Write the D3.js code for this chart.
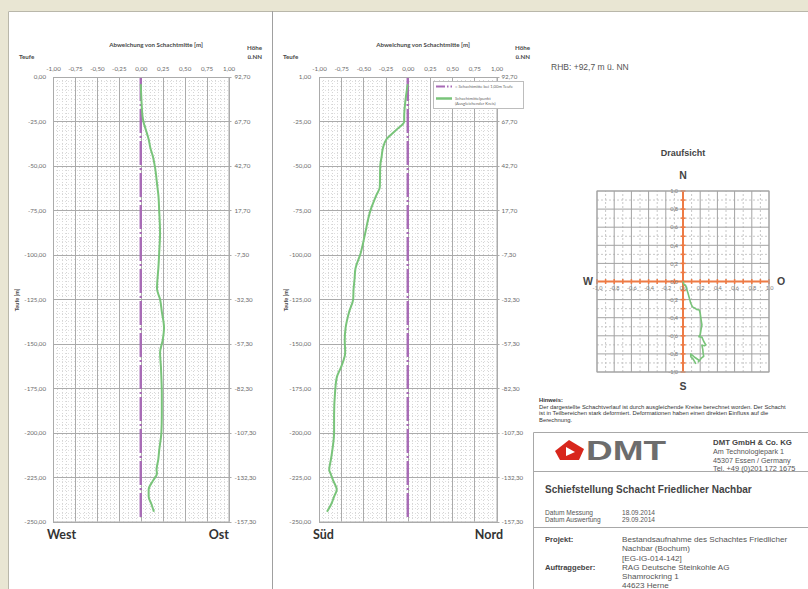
<!DOCTYPE html>
<html>
<head>
<meta charset="utf-8">
<script src="https://cdn.jsdelivr.net/npm/d3@7/dist/d3.min.js"></script>
<style>
  html, body { margin: 0; padding: 0; background: #fff; }
  svg { display: block; }
</style>
</head>
<body>
<svg id="sheet" width="808" height="589"></svg>
<script>
// ---- survey data -------------------------------------------------------
// depth stations of the shaft survey [m]
const depths = [-4, -15, -22, -25, -30, -35, -40, -45, -50, -62,
                -66, -75, -88, -99, -108, -114, -119, -125, -132, -141,
                -148, -155, -163, -169, -178, -190, -200, -210, -215, -221,
                -223, -227, -232, -236, -240, -244.5];
// deviation of the shaft centre, West (-) / Ost (+) [m]
const eastDev = [0, 0.01, 0.02, 0.03, 0.06, 0.09, 0.11, 0.14, 0.16, 0.19,
                 0.20, 0.21, 0.22, 0.21, 0.20, 0.19, 0.185, 0.22, 0.24, 0.265,
                 0.25, 0.22, 0.23, 0.235, 0.24, 0.24, 0.235, 0.21, 0.20, 0.18,
                 0.185, 0.14, 0.09, 0.09, 0.12, 0.15];
// deviation of the shaft centre, Süd (-) / Nord (+) [m]
const northDev = [0, -0.03, -0.04, -0.04, -0.135, -0.24, -0.28, -0.295, -0.31, -0.315,
                  -0.35, -0.42, -0.48, -0.53, -0.59, -0.60, -0.61, -0.615, -0.66, -0.70,
                  -0.71, -0.705, -0.75, -0.80, -0.82, -0.83, -0.83, -0.85, -0.865, -0.885,
                  -0.87, -0.84, -0.80, -0.83, -0.86, -0.91];
// reference line: shaft centre at 1,00 m depth
const centerDepths = [0, -248];
const centerDev = [0, 0];

// ---- tick labels -------------------------------------------------------
const devTicks = [-1, -0.75, -0.5, -0.25, 0, 0.25, 0.5, 0.75, 1];
const devTickLabels = ["-1,00", "-0,75", "-0,50", "-0,25", "0,00", "0,25", "0,50", "0,75", "1,00"];
const depthTicks = [0, -25, -50, -75, -100, -125, -150, -175, -200, -225, -250];
const depthLabelsWest = ["0,00", "-25,00", "-50,00", "-75,00", "-100,00", "-125,00", "-150,00",
                         "-175,00", "-200,00", "-225,00", "-250,00"];
const depthLabelsSued = ["1,00", "-25,00", "-50,00", "-75,00", "-100,00", "-125,00", "-150,00",
                         "-175,00", "-200,00", "-225,00", "-250,00"];
const heightLabels = ["92,70", "67,70", "42,70", "17,70", "-7,30", "-32,30", "-57,30",
                      "-82,30", "-107,30", "-132,30", "-157,30"];
const planTicks = [-1, -0.8, -0.6, -0.4, -0.2, 0, 0.2, 0.4, 0.6, 0.8, 1];
const planTickLabels = ["-1,0", "-0,8", "-0,6", "-0,4", "-0,2", "0,0", "0,2", "0,4", "0,6", "0,8", "1,0"];

// ---- styles ------------------------------------------------------------
const chartFont = "Lato, 'Open Sans', sans-serif";
const infoFont = "'Liberation Sans', Arial, sans-serif";
const green = "#79c47a";
const purple = "#a86bb6";
const orange = "#ee7b45";

const svg = d3.select("#sheet");

// sheet background and frame
svg.append("rect").attr("width", 808).attr("height", 589).attr("fill", "#e9e6d3");
svg.append("rect").attr("x", 8).attr("y", 11).attr("width", 800).attr("height", 578).attr("fill", "#fff");
svg.append("path").attr("d", "M8.5,589V11.5H808").attr("fill", "none").attr("stroke", "#b9b7aa");
svg.append("line").attr("x1", 272.5).attr("x2", 272.5).attr("y1", 11).attr("y2", 589)
  .attr("stroke", "#a0a0a0");

// ---- depth profile chart ----------------------------------------------
function profileChart(cfg) {
  const x = d3.scaleLinear().domain([-1, 1]).range([cfg.left, cfg.right]);
  const y = d3.scaleLinear().domain([0, -250]).range([77, 521.5]);
  const g = svg.append("g");
  const [x0, x1] = x.range();
  const [y0, y1] = y.range();

  // minor grid (dotted)
  g.append("g").selectAll("line").data(d3.range(-1, 1.0001, 0.05)).join("line")
    .attr("x1", d => Math.round(x(d)) + 0.5).attr("x2", d => Math.round(x(d)) + 0.5)
    .attr("y1", y0).attr("y2", y1)
    .attr("stroke", "#d5d5d5").attr("stroke-dasharray", "1,2");
  g.append("g").selectAll("line").data(d3.range(0, -250.001, -2.5)).join("line")
    .attr("x1", x0).attr("x2", x1)
    .attr("y1", d => Math.round(y(d)) + 0.5).attr("y2", d => Math.round(y(d)) + 0.5)
    .attr("stroke", "#dedede").attr("stroke-dasharray", "1,2");

  // major grid
  g.append("g").selectAll("line").data(devTicks).join("line")
    .attr("x1", d => Math.round(x(d)) + 0.5).attr("x2", d => Math.round(x(d)) + 0.5)
    .attr("y1", y0).attr("y2", y1).attr("stroke", "#ababab");
  g.append("g").selectAll("line").data(depthTicks).join("line")
    .attr("x1", x0).attr("x2", x1 + 3)
    .attr("y1", d => Math.round(y(d)) + 0.5).attr("y2", d => Math.round(y(d)) + 0.5)
    .attr("stroke", "#ababab");

  // axis labels
  const styleAxis = sel => {
    sel.select(".domain").remove();
    sel.selectAll(".tick line").remove();
    sel.attr("font-family", chartFont).attr("font-size", 6.2).selectAll("text").attr("fill", "#6a6a6a");
  };
  g.append("g").attr("transform", "translate(0,71)")
    .call(d3.axisTop(x).tickValues(devTicks).tickFormat((d, i) => devTickLabels[i]).tickSize(0).tickPadding(0))
    .call(styleAxis);
  g.append("g").attr("transform", `translate(${cfg.leftLabelX},0)`)
    .call(d3.axisLeft(y).tickValues(depthTicks).tickFormat((d, i) => cfg.depthLabels[i]).tickSize(0).tickPadding(0))
    .call(styleAxis);
  g.append("g").attr("transform", `translate(${x1 + cfg.rightGap},0)`)
    .call(d3.axisRight(y).tickValues(depthTicks).tickFormat((d, i) => heightLabels[i]).tickSize(0).tickPadding(0))
    .call(styleAxis);

  // titles
  const t = (tx, ty, s, opt = {}) => g.append("text").attr("x", tx).attr("y", ty).text(s)
    .attr("font-family", chartFont).attr("font-size", opt.size || 6.2)
    .attr("font-weight", opt.weight || "bold").attr("fill", opt.fill || "#4a4a4a")
    .attr("text-anchor", opt.anchor || "start");
  t(cfg.titleX, 47, "Abweichung von Schachtmitte [m]", { anchor: "middle" });
  t(cfg.teufeX, 59, "Teufe");
  t(cfg.hoeheX, 50, "Höhe", { anchor: "end" });
  t(cfg.hoeheX, 59, "ü.NN", { anchor: "end" });
  g.append("text").attr("transform", `translate(${cfg.axisTitleX},300) rotate(-90)`)
    .attr("text-anchor", "middle").attr("font-family", chartFont).attr("font-size", 5.5)
    .attr("font-weight", "bold").attr("fill", "#4a4a4a").text("Teufe [m]");
  t(cfg.leftWordX, 539, cfg.leftWord, { size: 12.5, fill: "#333" });
  t(cfg.rightWordX, 539, cfg.rightWord, { size: 12.5, fill: "#333", anchor: "end" });

  // reference centre line
  const refLine = d3.line().x((d, i) => x(centerDev[i])).y(d => y(d));
  g.append("path").datum(centerDepths).attr("d", refLine)
    .attr("fill", "none").attr("stroke", purple).attr("stroke-width", 2.4)
    .attr("stroke-dasharray", "24,3,2,3");

  // measured shaft centre
  const devLine = d3.line().x((d, i) => x(cfg.values[i])).y(d => y(d)).curve(d3.curveMonotoneY);
  g.append("path").datum(depths).attr("d", devLine)
    .attr("fill", "none").attr("stroke", green).attr("stroke-width", 2)
    .attr("stroke-linejoin", "round");

  // plot border
  g.append("rect").attr("x", x0 + 0.5).attr("y", y0 + 0.5)
    .attr("width", x1 - x0).attr("height", y1 - y0)
    .attr("fill", "none").attr("stroke", "#ababab");
  return g;
}

profileChart({
  left: 53, right: 228.5, values: eastDev, depthLabels: depthLabelsWest,
  leftLabelX: 46, rightGap: 6, titleX: 156, teufeX: 19, hoeheX: 262, axisTitleX: 19,
  leftWord: "West", leftWordX: 47, rightWord: "Ost", rightWordX: 229
});
const sued = profileChart({
  left: 319, right: 496.5, values: northDev, depthLabels: depthLabelsSued,
  leftLabelX: 311, rightGap: 5, titleX: 423, teufeX: 283, hoeheX: 530, axisTitleX: 288,
  leftWord: "Süd", leftWordX: 313, rightWord: "Nord", rightWordX: 503
});

// legend of the Süd/Nord chart
const lg = sued.append("g");
lg.append("rect").attr("x", 433.5).attr("y", 81.5).attr("width", 90).attr("height", 27)
  .attr("fill", "#fff").attr("stroke", "#bdbdbd");
lg.append("line").attr("x1", 436).attr("x2", 452).attr("y1", 86.5).attr("y2", 86.5)
  .attr("stroke", purple).attr("stroke-width", 2).attr("stroke-dasharray", "9,2,1.5,2");
lg.append("line").attr("x1", 436).attr("x2", 452).attr("y1", 98.5).attr("y2", 98.5)
  .attr("stroke", green).attr("stroke-width", 2.5);
[["= Schachtmitte bei 1,00m Teufe", 88], ["Schachtmittelpunkt", 99.5], ["(Ausgleichender Kreis)", 105]]
  .forEach(([s, yy]) => lg.append("text").attr("x", 455).attr("y", yy).text(s)
    .attr("font-family", chartFont).attr("font-size", 4.2).attr("fill", "#666"));

// ---- plan view (Draufsicht) -------------------------------------------
const px = d3.scaleLinear().domain([-1, 1]).range([597, 769]);
const py = d3.scaleLinear().domain([-1, 1]).range([372, 191]);
const pg = svg.append("g");
const minorPlan = d3.range(-0.9, 0.95, 0.2);
pg.append("g").selectAll("line").data(minorPlan).join("line")
  .attr("x1", d => px(d)).attr("x2", d => px(d)).attr("y1", py(-1)).attr("y2", py(1))
  .attr("stroke", "#c8c8c8").attr("stroke-dasharray", "2,2");
pg.append("g").selectAll("line").data(minorPlan).join("line")
  .attr("x1", px(-1)).attr("x2", px(1)).attr("y1", d => py(d)).attr("y2", d => py(d))
  .attr("stroke", "#c8c8c8").attr("stroke-dasharray", "2,2");
pg.append("g").selectAll("line").data(planTicks).join("line")
  .attr("x1", d => px(d)).attr("x2", d => px(d)).attr("y1", py(-1)).attr("y2", py(1))
  .attr("stroke", "#a3a3a3");
pg.append("g").selectAll("line").data(planTicks).join("line")
  .attr("x1", px(-1)).attr("x2", px(1)).attr("y1", d => py(d)).attr("y2", d => py(d))
  .attr("stroke", "#a3a3a3");

// orange cross axes with tick marks
const planTickPos = d3.range(-1, 1.0001, 0.1);
pg.append("line").attr("x1", px(-1)).attr("x2", px(1)).attr("y1", py(0)).attr("y2", py(0))
  .attr("stroke", orange).attr("stroke-width", 2);
pg.append("line").attr("x1", px(0)).attr("x2", px(0)).attr("y1", py(-1)).attr("y2", py(1))
  .attr("stroke", orange).attr("stroke-width", 2);
pg.append("g").selectAll("line").data(planTickPos).join("line")
  .attr("x1", d => px(d)).attr("x2", d => px(d)).attr("y1", py(0) - 2.5).attr("y2", py(0) + 2.5)
  .attr("stroke", orange).attr("stroke-width", 1.5);
pg.append("g").selectAll("line").data(planTickPos).join("line")
  .attr("x1", px(0) - 2.5).attr("x2", px(0) + 2.5).attr("y1", d => py(d)).attr("y2", d => py(d))
  .attr("stroke", orange).attr("stroke-width", 1.5);

const stylePlanAxis = sel => {
  sel.select(".domain").remove();
  sel.selectAll(".tick line").remove();
  sel.attr("font-family", chartFont).attr("font-size", 5.6).selectAll("text").attr("fill", "#7a7a7a");
};
pg.append("g").attr("transform", `translate(0,${py(0)})`)
  .call(d3.axisBottom(px).tickValues(planTicks).tickFormat((d, i) => planTickLabels[i]).tickSize(0).tickPadding(5))
  .call(stylePlanAxis);
pg.append("g").attr("transform", `translate(${px(0) - 5},0)`)
  .call(d3.axisLeft(py).tickValues(planTicks).tickFormat((d, i) => planTickLabels[i]).tickSize(0).tickPadding(0))
  .call(stylePlanAxis);

// plan path of the shaft centre
const planLine = d3.line().x((d, i) => px(eastDev[i])).y((d, i) => py(northDev[i]));
pg.append("path").datum(depths).attr("d", planLine)
  .attr("fill", "none").attr("stroke", green).attr("stroke-width", 1.6)
  .attr("stroke-linejoin", "round");

pg.append("rect").attr("x", px(-1)).attr("y", py(1)).attr("width", px(1) - px(-1))
  .attr("height", py(-1) - py(1)).attr("fill", "none").attr("stroke", "#a3a3a3");

const pt = (tx, ty, s, size, anchor = "middle") => pg.append("text").attr("x", tx).attr("y", ty).text(s)
  .attr("font-family", infoFont).attr("font-size", size).attr("font-weight", "bold")
  .attr("fill", "#444").attr("text-anchor", anchor);
pt(683, 156, "Draufsicht", 9);
pt(683, 179, "N", 10.5);
pt(683, 390, "S", 10.5);
pt(588, 285, "W", 10.5);
pt(781, 285, "O", 10.5);

// ---- info block -------------------------------------------------------
const info = svg.append("g").attr("font-family", infoFont);
const it = (tx, ty, s, size, opt = {}) => info.append("text").attr("x", tx).attr("y", ty).text(s)
  .attr("font-size", size).attr("font-weight", opt.weight || "normal")
  .attr("fill", opt.fill || "#555").attr("text-anchor", opt.anchor || "start");

it(551, 70, "RHB: +92,7 m ü. NN", 8.5, { fill: "#555" });

it(539, 401.5, "Hinweis:", 5.8, { weight: "bold", fill: "#333" });
it(539, 408.5, "Der dargestellte Schachtverlauf ist durch ausgleichende Kreise berechnet worden. Der Schacht", 5.85, { fill: "#333" });
it(539, 415, "ist in Teilbereichen stark deformiert. Deformationen haben einen direkten Einfluss auf die", 5.85, { fill: "#333" });
it(539, 421.5, "Berechnung.", 5.85, { fill: "#333" });

// title block frame
info.append("path").attr("d", "M533.5,589V432.5H808M533.5,471.5H808M533.5,527.5H808")
  .attr("fill", "none").attr("stroke", "#a8a8a8");

// company logo
info.append("path").attr("d", "M569,440 L584,449 L579,460 L560,460 L555,451 Z").attr("fill", "#d8261c");
info.append("path").attr("d", "M566,447 L575,452 L566,456 Z").attr("fill", "#fff");
it(586, 460, "DMT", 27, { weight: "bold", fill: "#6d6d6d" }).attr("textLength", 80).attr("lengthAdjust", "spacingAndGlyphs");

it(713, 445, "DMT GmbH & Co. KG", 7.8, { weight: "bold", fill: "#444" });
it(713, 454, "Am Technologiepark 1", 7.2);
it(713, 462.5, "45307 Essen / Germany", 7.2);
it(713, 471, "Tel. +49 (0)201 172 1675", 7.4);

it(545, 493, "Schiefstellung Schacht Friedlicher Nachbar", 10, { weight: "bold", fill: "#444" });

it(545, 515, "Datum Messung", 6.6);
it(622, 515, "18.09.2014", 6.6);
it(545, 522, "Datum Auswertung", 6.6);
it(622, 522, "29.09.2014", 6.6);

it(545, 541.5, "Projekt:", 7.6, { weight: "bold", fill: "#444" });
it(622, 541.5, "Bestandsaufnahme des Schachtes Friedlicher", 8.1);
it(622, 551, "Nachbar (Bochum)", 8.1);
it(622, 560.5, "[EG-IG-014-142]", 8.1);
it(545, 570, "Auftraggeber:", 7.6, { weight: "bold", fill: "#444" });
it(622, 570, "RAG Deutsche Steinkohle AG", 8.1);
it(622, 579, "Shamrockring 1", 8.1);
it(622, 587.5, "44623 Herne", 8.1);
</script>
</body>
</html>
